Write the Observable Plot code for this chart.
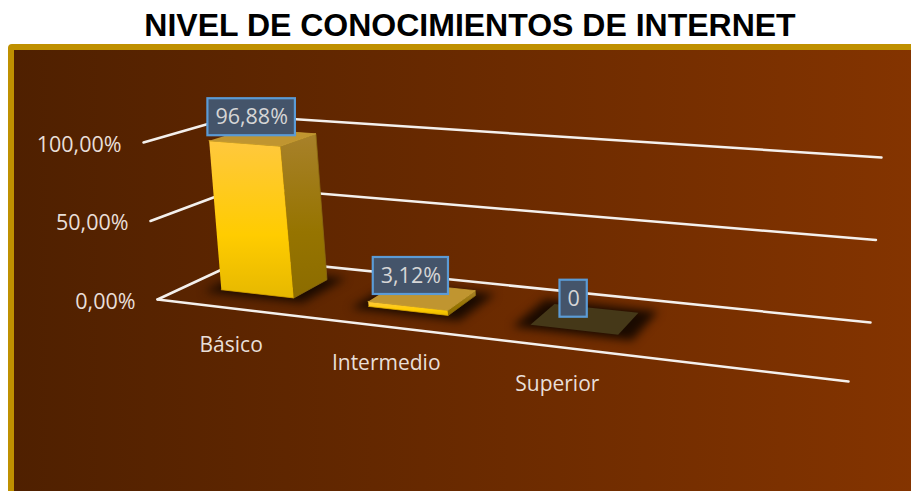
<!DOCTYPE html>
<html><head><meta charset="utf-8">
<script src="https://cdn.jsdelivr.net/npm/d3@7"></script>
<script src="https://cdn.jsdelivr.net/npm/@observablehq/plot@0.6"></script>
<style>
html,body{margin:0;padding:0;background:#fff;width:911px;height:491px;overflow:hidden}
#title{height:44px;text-align:center;font:bold 32px/51px "Liberation Sans",Arial,sans-serif;color:#000;width:940px;white-space:nowrap}
#panel{position:absolute;left:8px;top:44px;width:1000px;height:500px;box-sizing:border-box;border:6px solid #BF9000;border-radius:4px;background:linear-gradient(90deg,#4F2000 0,#843400 903px)}
#chart{position:absolute;left:0;top:44px}
</style></head><body>
<div id="title">NIVEL DE CONOCIMIENTOS DE INTERNET</div>
<div id="panel"></div>
<div id="chart"></div>
<script>
const categories = ["Básico", "Intermedio", "Superior"];
const values = [96.88, 3.12, 0];
const valueLabels = ["96,88%", "3,12%", "0"];
const axisTicks = [0, 50, 100];
const axisLabels = ["0,00%", "50,00%", "100,00%"];

// Perspective of the 3D chart: floor and 100% plane as corners FL, FR, BR, BL
const floorQuad = [[157,299],[848,381],[870,322],[245,258]];
const topQuad = [[143,142],[868,200],[881,157],[237,115]];
function homography(q){
  const [[x0,y0],[x1,y1],[x2,y2],[x3,y3]] = q;
  const dx1=x1-x2,dx2=x3-x2,dx3=x0-x1+x2-x3,dy1=y1-y2,dy2=y3-y2,dy3=y0-y1+y2-y3;
  const den=dx1*dy2-dx2*dy1,g=(dx3*dy2-dx2*dy3)/den,h=(dx1*dy3-dx3*dy1)/den;
  const a=x1-x0+g*x1,b=x3-x0+h*x3,d=y1-y0+g*y1,e=y3-y0+h*y3;
  return (u,v)=>{const k=g*u+h*v+1;return [(a*u+b*v+x0)/k,(d*u+e*v+y0)/k];};
}
const H0=homography(floorQuad),H1=homography(topQuad);
const project=(u,v,w)=>{const p=H0(u,v),q=H1(u,v),t=w/100;return [p[0]+(q[0]-p[0])*t,p[1]+(q[1]-p[1])*t];};

const slots=4, halfW=0.063, v0=0.31, v1=0.73;
const uOf=i=>(i+0.5)/slots;
const face=(bar,name,pts)=>pts.map(([u,v,w])=>{const [x,y]=project(u,v,w);return {bar,name,x,y};});
const faces=name=>values.flatMap((val,i)=>{
  const a=uOf(i)-halfW,b=uOf(i)+halfW;
  if(name==="top") return face(i,name,[[a,v0,val],[b,v0,val],[b,v1,val],[a,v1,val]]);
  if(val===0) return [];
  if(name==="front") return face(i,name,[[a,v0,val],[b,v0,val],[b,v0,0],[a,v0,0]]);
  return face(i,name,[[b,v0,val],[b,v1,val],[b,v1,0],[b,v0,0]]);
});
const shadow=values.flatMap((val,i)=>{
  const a=uOf(i)-halfW-0.02,b=uOf(i)+halfW+0.024;
  return face(i,"shadow",[[a,v0-.07,0],[b,v0-.07,0],[b,v1+.07,0],[a,v1+.07,0]]);
});
const gridRows=[
  ...axisTicks.flatMap(t=>[[0,0,t],[0,1,t],[1,1,t]].map(([u,v,w])=>{const [x,y]=project(u,v,w);return {t,x,y};})),
  ...[[0,0,0],[1,0,0]].map(([u,v,w])=>{const [x,y]=project(u,v,w);return {t:"front",x,y};})
];
const tickRows=axisTicks.map((t,i)=>{const [x,y]=project(0,0,t);return {x,y,label:axisLabels[i]};});
const catRows=categories.map((c,i)=>{const [x,y]=project(uOf(i),0,0);return {x,y,label:c};});

const font='"Open Sans",sans-serif';
const ctx=document.createElement("canvas").getContext("2d");
ctx.font='21.5px "Open Sans"';
const boxRows=values.map((val,i)=>{
  const [x,y]=project(uOf(i),(v0+v1)/2,val);
  const hw=ctx.measureText(valueLabels[i]).width/2+7.5;
  return {cx:x-11.5,cy:y-20,hw,label:valueLabels[i]};
});

const defs=()=>{
  const d=d3.create("svg:defs");
  const g1=d.append("linearGradient").attr("id","gFront").attr("x1",0).attr("y1",0).attr("x2",0).attr("y2",1);
  [[0,"#FFC83E"],[0.6,"#FFCC00"],[1,"#E6B800"]].forEach(([o,c])=>g1.append("stop").attr("offset",o).attr("stop-color",c));
  const g2=d.append("linearGradient").attr("id","gSide").attr("x1",0).attr("y1",0).attr("x2",0).attr("y2",1);
  [[0,"#A8812A"],[0.6,"#967400"],[1,"#8C6C00"]].forEach(([o,c])=>g2.append("stop").attr("offset",o).attr("stop-color",c));
  return d.node();
};
const poly=(name,fill,stroke)=>Plot.line(faces(name),{x:"x",y:"y",z:"bar",fill,stroke,strokeWidth:0.8});

const plot=Plot.plot({
  width:911,height:447,margin:0,
  style:{background:"transparent",overflow:"visible"},
  x:{domain:[0,911],range:[0,911],axis:null},
  y:{domain:[44,491],range:[0,447],axis:null},
  marks:[
    defs,
    Plot.line(gridRows,{x:"x",y:"y",z:"t",stroke:"#F4F0EC",strokeWidth:2.5,strokeLinejoin:"miter"}),
    Plot.line(shadow,{x:"x",y:"y",z:"bar",fill:"#1A0A00",stroke:"none",imageFilter:"blur(5px)"}),
    poly("front","url(#gFront)","#D9A400"),
    poly("side","url(#gSide)","#8A6A10"),
    Plot.line(faces("top").filter(d=>values[d.bar]>0),{x:"x",y:"y",z:"bar",fill:"#C09530",stroke:"#C9A035",strokeWidth:0.8}),
    Plot.line(faces("top").filter(d=>values[d.bar]===0),{x:"x",y:"y",z:"bar",fill:"#453818",stroke:"none"}),
    Plot.text(tickRows,{x:"x",y:"y",text:"label",dx:-22,dy:2.5,textAnchor:"end",fill:"#E8DFD8",fontSize:21.5,fontFamily:font}),
    Plot.text(catRows,{x:"x",y:"y",text:"label",dx:1.5,dy:37,fill:"#E8DFD8",fontSize:21,fontFamily:font}),
    Plot.rect(boxRows,{x1:d=>d.cx-d.hw,x2:d=>d.cx+d.hw,y1:d=>d.cy-18.5,y2:d=>d.cy+18.5,fill:"#44546A",stroke:"#5B9BD5",strokeWidth:2.2}),
    Plot.text(boxRows,{x:"cx",y:"cy",text:"label",fill:"#D6D6D6",fontSize:21.5,fontFamily:font})
  ]
});
document.getElementById("chart").appendChild(plot);
</script>
</body></html>
